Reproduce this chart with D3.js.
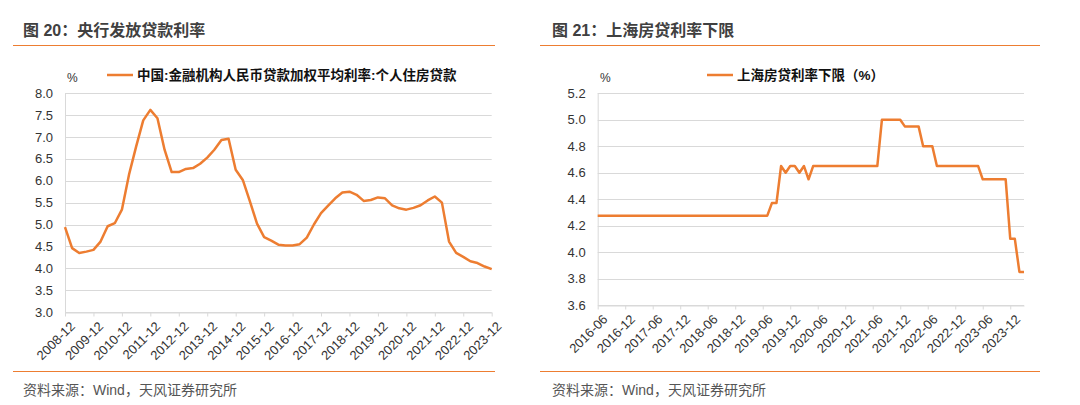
<!DOCTYPE html>
<html>
<head>
<meta charset="utf-8">
<script src="https://cdn.jsdelivr.net/npm/d3@7"></script>
<style>
  body { margin: 0; background: #fff; }
  text { font-family: "Liberation Sans", "Noto Sans CJK SC", sans-serif; }
</style>
</head>
<body>
<svg id="chart" width="1080" height="405"></svg>
<script>
// left chart: quarterly, 2008-12 .. 2023-12
const leftYears = d3.range(2008, 2024);
const leftTickLabels = leftYears.map(y => `${y}-12`);
const leftValues = [
  4.94,
  4.46, 4.35, 4.38, 4.42,
  4.61, 4.96, 5.03, 5.34,
  6.14, 6.78, 7.38, 7.62,
  7.43, 6.71, 6.20, 6.20,
  6.27, 6.29, 6.39, 6.53,
  6.71, 6.93, 6.96, 6.25,
  6.02, 5.53, 5.02, 4.71,
  4.63, 4.54, 4.52, 4.52,
  4.55, 4.70, 5.00, 5.26,
  5.43, 5.60, 5.73, 5.75,
  5.68, 5.54, 5.56, 5.62,
  5.60, 5.44, 5.37, 5.34,
  5.38, 5.44, 5.55, 5.64,
  5.50, 4.61, 4.35, 4.26,
  4.16, 4.12, 4.04, 3.98
];
const leftYTicks = [3.0, 3.5, 4.0, 4.5, 5.0, 5.5, 6.0, 6.5, 7.0, 7.5, 8.0];

// right chart: monthly, 2016-06 .. 2024-03
const rightTickLabels = [
  "2016-06", "2016-12", "2017-06", "2017-12", "2018-06", "2018-12",
  "2019-06", "2019-12", "2020-06", "2020-12", "2021-06", "2021-12",
  "2022-06", "2022-12", "2023-06", "2023-12"
];
const rightValues = [
  4.275, 4.275, 4.275, 4.275, 4.275, 4.275, 4.275, 4.275, 4.275, 4.275,
  4.275, 4.275, 4.275, 4.275, 4.275, 4.275, 4.275, 4.275, 4.275, 4.275,
  4.275, 4.275, 4.275, 4.275, 4.275, 4.275, 4.275, 4.275, 4.275, 4.275,
  4.275, 4.275, 4.275, 4.275, 4.275, 4.275, 4.275, 4.275,
  4.37, 4.37, 4.65, 4.60, 4.65, 4.65, 4.60, 4.65, 4.55,
  4.65, 4.65, 4.65, 4.65, 4.65, 4.65, 4.65, 4.65, 4.65, 4.65,
  4.65, 4.65, 4.65, 4.65, 4.65,
  5.00, 5.00, 5.00, 5.00, 5.00,
  4.95, 4.95, 4.95, 4.95,
  4.80, 4.80, 4.80,
  4.65, 4.65, 4.65, 4.65, 4.65, 4.65, 4.65, 4.65, 4.65, 4.65,
  4.55, 4.55, 4.55, 4.55, 4.55, 4.55,
  4.10, 4.10,
  3.85, 3.85
];
const rightYTicks = [3.6, 3.8, 4.0, 4.2, 4.4, 4.6, 4.8, 5.0, 5.2];

const orange = "#ed7d31";
const svg = d3.select("#chart");

svg.append("rect")
    .attr("width", 1080)
    .attr("height", 405)
    .attr("fill", "#fff");

const drawPanel = (selection, props) => {
  const {
    title, source, legend, left, right, top, bottom,
    values, step, tickLabels, yTicks, frameX0, frameX1, textX,
    percentX, legendX
  } = props;

  const g = selection.append("g");

  // title + frame lines
  g.append("text")
      .attr("x", textX)
      .attr("y", 36)
      .attr("fill", "#404040")
      .style("font-size", "16px")
      .style("font-weight", "bold")
      .text(title);

  g.append("line")
      .attr("x1", frameX0).attr("x2", frameX1)
      .attr("y1", 45.5).attr("y2", 45.5)
      .attr("stroke", orange)
      .attr("stroke-width", 1.2);

  g.append("line")
      .attr("x1", frameX0).attr("x2", frameX1)
      .attr("y1", 371.5).attr("y2", 371.5)
      .attr("stroke", orange)
      .attr("stroke-width", 1.2);

  g.append("text")
      .attr("x", textX)
      .attr("y", 395)
      .attr("fill", "#555")
      .style("font-size", "14px")
      .text(source);

  const x = d3.scaleLinear()
      .domain([0, values.length - 1])
      .range([left, right]);

  const y = d3.scaleLinear()
      .domain(d3.extent(yTicks))
      .range([bottom, top]);

  // grid
  g.append("g")
    .selectAll("line")
    .data(yTicks)
    .enter().append("line")
      .attr("x1", left)
      .attr("x2", right)
      .attr("y1", d => Math.round(y(d)) + 0.5)
      .attr("y2", d => Math.round(y(d)) + 0.5)
      .attr("stroke", "#d9d9d9");

  // y labels
  g.append("g")
    .selectAll("text")
    .data(yTicks)
    .enter().append("text")
      .attr("x", left - 12)
      .attr("y", d => y(d))
      .attr("dy", "0.35em")
      .attr("text-anchor", "end")
      .attr("fill", "#333")
      .style("font-size", "13px")
      .text(d => d.toFixed(1));

  // left axis line
  g.append("line")
      .attr("x1", left + 0.5).attr("x2", left + 0.5)
      .attr("y1", top).attr("y2", bottom)
      .attr("stroke", "#d9d9d9");

  // x axis
  const xAxis = d3.axisBottom(x)
      .tickValues(tickLabels.map((d, i) => i * step))
      .tickFormat((d, i) => tickLabels[i])
      .tickSize(4)
      .tickSizeOuter(0);

  const ax = g.append("g")
      .attr("transform", `translate(0, ${Math.round(bottom) + 0.5})`)
      .call(xAxis);

  ax.select(".domain").attr("stroke", "#d9d9d9");
  ax.selectAll(".tick line").attr("stroke", "#d9d9d9");
  ax.selectAll(".tick text")
      .attr("x", -3)
      .attr("y", 13)
      .attr("dy", "0.35em")
      .attr("text-anchor", "end")
      .attr("transform", "rotate(-45)")
      .attr("fill", "#333")
      .style("font-size", "13px")
      .style("font-family", "'Liberation Sans', sans-serif");

  // series
  const line = d3.line()
      .x((d, i) => x(i))
      .y(d => y(d));

  g.append("path")
      .datum(values)
      .attr("d", line)
      .attr("fill", "none")
      .attr("stroke", orange)
      .attr("stroke-width", 2.5)
      .attr("stroke-linejoin", "round");

  // % unit + legend
  g.append("text")
      .attr("x", percentX)
      .attr("y", 82)
      .attr("fill", "#333")
      .style("font-size", "12px")
      .text("%");

  g.append("line")
      .attr("x1", legendX).attr("x2", legendX + 26)
      .attr("y1", 75).attr("y2", 75)
      .attr("stroke", orange)
      .attr("stroke-width", 2.5);

  g.append("text")
      .attr("x", legendX + 30)
      .attr("y", 80)
      .attr("fill", "#111")
      .style("font-size", "13.5px")
      .style("font-weight", "bold")
      .text(legend);
};

drawPanel(svg, {
  title: "图 20：央行发放贷款利率",
  source: "资料来源：Wind，天风证券研究所",
  legend: "中国:金融机构人民币贷款加权平均利率:个人住房贷款",
  left: 65, right: 491.7, top: 93.3, bottom: 312,
  values: leftValues,
  step: 4,
  tickLabels: leftTickLabels,
  yTicks: leftYTicks,
  frameX0: 13, frameX1: 495, textX: 23,
  percentX: 67, legendX: 107
});

drawPanel(svg, {
  title: "图 21：上海房贷利率下限",
  source: "资料来源：Wind，天风证券研究所",
  legend: "上海房贷利率下限（%）",
  left: 597.7, right: 1024, top: 93.3, bottom: 305,
  values: rightValues,
  step: 6,
  tickLabels: rightTickLabels,
  yTicks: rightYTicks,
  frameX0: 540, frameX1: 1040, textX: 552,
  percentX: 600, legendX: 707
});
</script>
</body>
</html>
